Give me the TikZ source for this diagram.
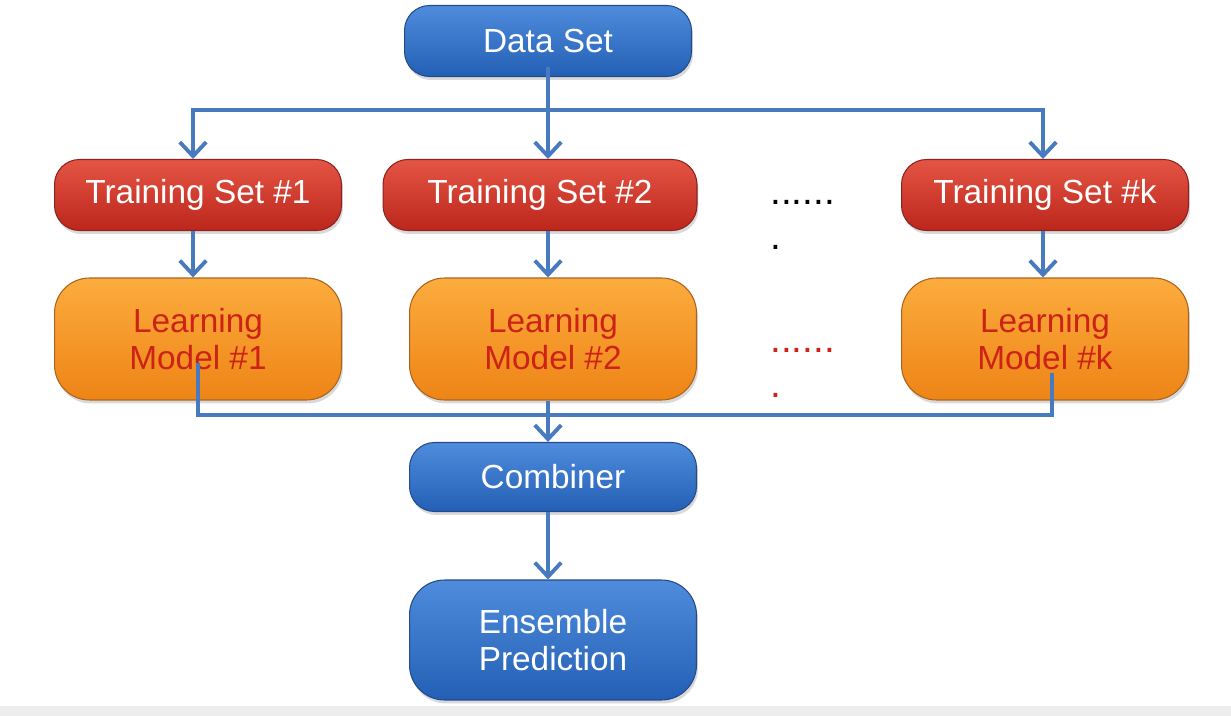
\documentclass[tikz,border=0pt]{standalone}
\usepackage{fontspec}
\setmainfont{Liberation Sans}
\usepackage{xcolor}
\usepackage{tikz}
\usetikzlibrary{positioning, arrows.meta, calc, shadows}

\definecolor{bluetop}{RGB}{80,140,220}
\definecolor{bluebot}{RGB}{35,95,180}
\definecolor{blueedge}{RGB}{35,75,140}
\definecolor{redtop}{RGB}{228,85,68}
\definecolor{redbot}{RGB}{188,38,28}
\definecolor{rededge}{RGB}{140,35,30}
\definecolor{orangetop}{RGB}{252,172,62}
\definecolor{orangebot}{RGB}{238,132,22}
\definecolor{orangeedge}{RGB}{170,100,30}
\definecolor{modeltext}{RGB}{205,35,22}
\definecolor{linkblue}{RGB}{72,122,192}

\begin{document}
\begin{tikzpicture}[
  x=0.02cm, y=-0.02cm,
  block/.style={draw, line width=0.6pt, rounded corners=0.5cm, minimum width=5.74cm,
                minimum height=1.42cm, align=center, inner sep=2pt,
                font=\fontsize{19}{21.5}\selectfont,
                drop shadow={opacity=0.3, shadow xshift=0.03cm, shadow yshift=-0.07cm}},
  bluebox/.style={block, draw=blueedge, top color=bluetop, bottom color=bluebot, text=white},
  redbox/.style={block, draw=rededge, top color=redtop, bottom color=redbot, text=white},
  modelbox/.style={block, draw=orangeedge, top color=orangetop, bottom color=orangebot,
                   text=modeltext, minimum height=2.44cm, rounded corners=0.7cm},
  more/.style={align=left, inner sep=0pt, font=\fontsize{22}{25.5}\selectfont},
  line/.style={draw=linkblue, line width=2.2pt},
  arr/.style={line, -{Straight Barb[length=8pt, width=15pt, line width=2.2pt]}}
]
\useasboundingbox (0,0) rectangle (1231,716);
\fill[black!7] (0,706) rectangle (1231,716);

% Source
\node[bluebox] (data) at (548,41) {Data Set};

% Training sets
\node[redbox] (ts1) at (198,195) {Training Set \#1};
\node[redbox, minimum width=6.28cm] (ts2) at (540,195) {Training Set \#2};
\node[redbox] (tsk) at (1045,195) {Training Set \#k};

% Learning models
\node[modelbox] (lm1) at (198,339) {Learning\\Model \#1};
\node[modelbox] (lm2) at (553,339) {Learning\\Model \#2};
\node[modelbox] (lmk) at (1045,339) {Learning\\Model \#k};

% Ellipses
\node[more, text=black, anchor=north west] (dots1) at (770,200) {......\\.};
\node[more, text=modeltext, anchor=north west] (dots2) at (770,348) {......\\.};

% Combiner and output
\node[bluebox, minimum height=1.38cm] (comb) at (553,477) {Combiner};
\node[bluebox, minimum height=2.4cm, rounded corners=0.7cm] (ens) at (553,640)
  {Ensemble\\Prediction};

% Arrows
\coordinate (split) at (548,110);
\coordinate (join) at (548,415);
\draw[line] ([yshift=0.2cm]data.south) -- (split);
\draw[arr] (split) -| ([xshift=-0.1cm]ts1.north);
\draw[arr] (split) -- (split |- ts2.north);
\draw[arr] (split) -| ([xshift=-0.04cm]tsk.north);
\draw[arr] ([xshift=-0.1cm]ts1.south) -- ([xshift=-0.1cm]lm1.north);
\draw[arr] ([xshift=0.16cm]ts2.south) -- ([xshift=-0.1cm]lm2.north);
\draw[arr] ([xshift=-0.04cm]tsk.south) -- ([xshift=-0.04cm]lmk.north);
\draw[line] ([yshift=0.76cm]lm1.south) |- (join);
\draw[line] ([xshift=0.14cm, yshift=0.56cm]lmk.south) |- (join);
\draw[arr] ([xshift=-0.1cm]lm2.south) -- ([xshift=-0.1cm]comb.north);
\draw[arr] ([xshift=-0.1cm]comb.south) -- ([xshift=-0.1cm]ens.north);

\end{tikzpicture}
\end{document}
